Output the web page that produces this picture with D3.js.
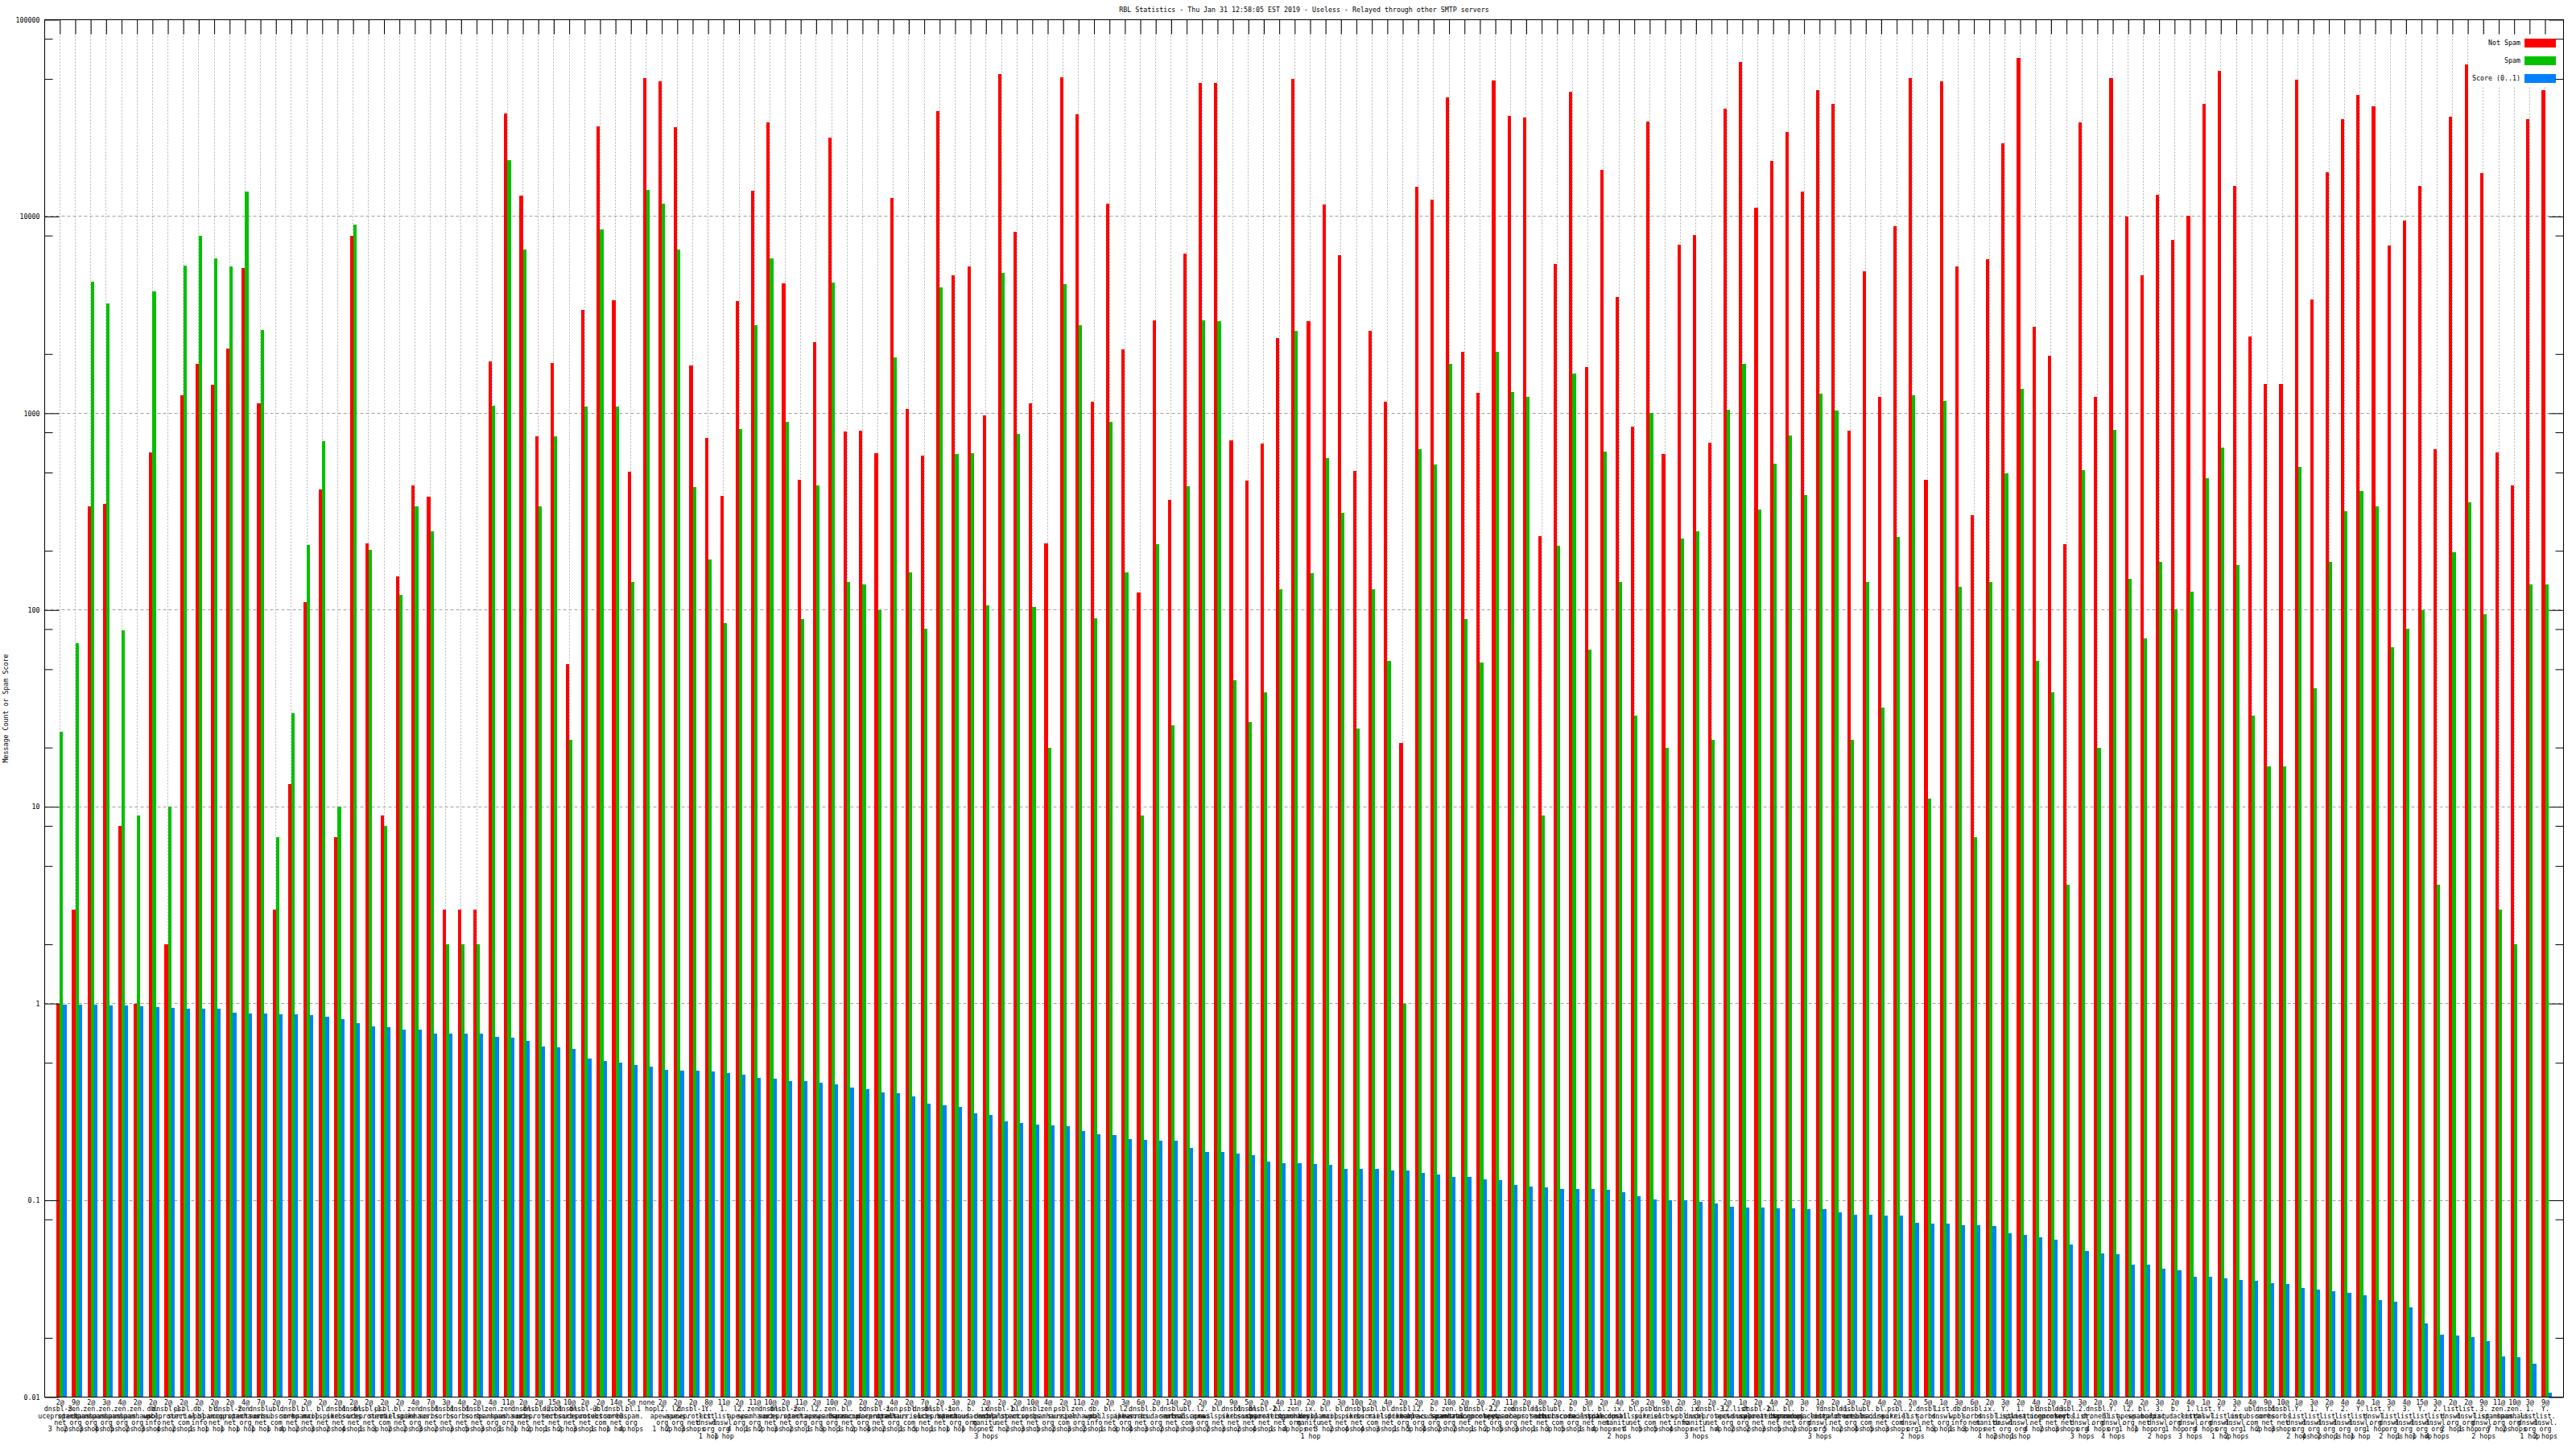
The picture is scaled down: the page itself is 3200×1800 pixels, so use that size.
<!DOCTYPE html>
<html><head><meta charset="utf-8">
<script src="https://cdn.jsdelivr.net/npm/d3@7"></script>
<style>
body{margin:0;background:#fff}
svg{display:block}
</style>
</head><body><svg id="c" width="3200" height="1800"></svg>
<script>
const title = "RBL Statistics - Thu Jan 31 12:58:05 EST 2019 - Useless - Relayed through other SMTP servers";
const yTitle = "Message Count or Spam Score";
const seriesNames = ["Not Spam", "Spam", "Score (0..1)"];
const seriesColors = ["#ff0000", "#00c000", "#0080ff"];
const yTickValues = [0.01, 0.1, 1, 10, 100, 1000, 10000, 100000];
const yTickLabels = ["0.01", "0.1", "1", "10", "100", "1000", "10000", "100000"];
const yMinorTicks = [0.02, 0.08, 0.5, 2, 5, 8, 20, 50, 80, 200, 500, 800, 2000, 8000, 50000, 80000];

const labels = [
"2@|dnsbl-3.uceprotect.net|3 hops","9@|zen.spamhaus.org|2 hops","2@|zen.spamhaus.org|3 hops","3@|zen.spamhaus.org|4 hops","4@|zen.spamhaus.org|5 hops",
"2@|zen.spamhaus.org|2 hops","2@|db.wpbl.info|3 hops","2@|dnsbl-1.uceprotect.net|4 hops","2@|psbl.surriel.com|2 hops","2@|db.wpbl.info|1 hop",
"2@|bl.spamcop.net|1 hop","2@|dnsbl-2.uceprotect.net|1 hop","4@|zen.spamhaus.org|1 hop","7@|dnsbl.sorbs.net|1 hop","2@|ubl.unsubscore.com|1 hop",
"7@|dnsbl.sorbs.net|4 hops","2@|bl.spamcop.net|2 hops","2@|bl.mailspike.net|3 hops","2@|dnsbl.sorbs.net|2 hops","2@|dnsbl.sorbs.net|4 hops",
"2@|dnsbl-1.uceprotect.net|1 hop","2@|psbl.surriel.com|3 hops","2@|bl.mailspike.net|2 hops","4@|zen.spamhaus.org|2 hops","7@|dnsbl.sorbs.net|3 hops",
"3@|dnsbl.sorbs.net|2 hops","4@|dnsbl.sorbs.net|3 hops","2@|dnsbl.sorbs.net|5 hops","4@|zen.spamhaus.org|3 hops","11@|zen.spamhaus.org|1 hop",
"2@|dnsbl.sorbs.net|1 hop","2@|dnsbl-2.uceprotect.net|2 hops","15@|dnsbl.sorbs.net|1 hop","10@|dnsbl.sorbs.net|2 hops","2@|dnsbl-3.uceprotect.net|3 hops",
"2@|ubl.unsubscore.com|1 hop","14@|dnsbl.sorbs.net|1 hop","5@|bl.0spam.org|4 hops","none||1 hop","2@|l2.apews.org|1 hop",
"2@|l2.apews.org|2 hops","2@|dnsbl-1.uceprotect.net|3 hops","8@|Y.list.dnswl.org|1 hop","11@|1.list.dnswl.org|1 hop","2@|l2.apews.org|4 hops",
"11@|zen.spamhaus.org|1 hop","10@|dnsbl.sorbs.net|2 hops","2@|dnsbl-2.uceprotect.net|3 hops","11@|zen.spamhaus.org|2 hops","2@|l2.apews.org|1 hop",
"10@|zen.spamhaus.org|3 hops","2@|bl.spamcop.net|1 hop","2@|b.barracudacentral.org|2 hops","2@|dnsbl-1.uceprotect.net|4 hops","4@|zen.spamhaus.org|2 hops",
"2@|psbl.surriel.com|1 hop","7@|dnsbl.sorbs.net|5 hops","2@|dnsbl-1.uceprotect.net|1 hop","3@|zen.spamhaus.org|1 hop","2@|b.barracudacentral.org|1 hop",
"2@|ix.dnsbl.manitu.net|3 hops","2@|dnsbl-1.uceprotect.net|2 hops","2@|bl.spamcop.net|2 hops","10@|dnsbl.sorbs.net|3 hops","4@|zen.spamhaus.org|5 hops",
"2@|psbl.surriel.com|2 hops","11@|zen.spamhaus.org|3 hops","2@|db.wpbl.info|2 hops","2@|bl.mailspike.net|1 hop","3@|l2.apews.org|3 hops",
"6@|dnsbl.sorbs.net|4 hops","2@|b.barracudacentral.org|3 hops","14@|dnsbl.sorbs.net|2 hops","2@|ubl.unsubscore.com|2 hops","2@|l2.apews.org|3 hops",
"2@|bl.mailspike.net|2 hops","9@|dnsbl.sorbs.net|3 hops","5@|dnsbl.sorbs.net|2 hops","2@|dnsbl-2.uceprotect.net|4 hops","4@|bl.spameatingmonkey.net|1 hop",
"11@|zen.spamhaus.org|4 hops","2@|ix.dnsbl.manitu.net|1 hop","2@|bl.spamcop.net|3 hops","3@|bl.mailspike.net|2 hops","10@|dnsbl.sorbs.net|4 hops",
"2@|psbl.surriel.com|4 hops","4@|bl.mailspike.net|3 hops","2@|dnsbl.dronebl.org|1 hop","2@|l2.apews.org|5 hops","2@|b.barracudacentral.org|4 hops",
"10@|zen.spamhaus.org|2 hops","2@|bl.spameatingmonkey.net|2 hops","3@|dnsbl-2.uceprotect.net|1 hop","2@|l2.apews.org|2 hops","11@|zen.spamhaus.org|5 hops",
"2@|dnsbl-1.uceprotect.net|3 hops","8@|dnsbl.sorbs.net|1 hop","2@|ubl.unsubscore.com|3 hops","2@|b.barracudacentral.org|5 hops","3@|bl.mailspike.net|1 hop",
"2@|bl.spamcop.net|4 hops","4@|ix.dnsbl.manitu.net|2 hops","5@|bl.mailspike.net|4 hops","2@|psbl.surriel.com|5 hops","9@|dnsbl.sorbs.net|5 hops",
"2@|db.wpbl.info|4 hops","3@|ix.dnsbl.manitu.net|3 hops","2@|dnsbl-3.uceprotect.net|1 hop","2@|l2.apews.org|4 hops","1@|list.dnswl.org|2 hops",
"2@|dnsbl-2.uceprotect.net|2 hops","4@|bl.spameatingmonkey.net|3 hops","2@|bl.spamcop.net|5 hops","3@|b.barracudacentral.org|2 hops","1@|Y.list.dnswl.org|3 hops",
"2@|dnsbl-1.uceprotect.net|5 hops","3@|dnsbl.dronebl.org|2 hops","2@|ubl.unsubscore.com|4 hops","4@|bl.mailspike.net|5 hops","2@|psbl.surriel.com|3 hops",
"2@|2.list.dnswl.org|2 hops","5@|dnsbl.sorbs.net|1 hop","1@|list.dnswl.org|3 hops","3@|db.wpbl.info|1 hop","6@|dnsbl.sorbs.net|3 hops",
"2@|ix.dnsbl.manitu.net|4 hops","3@|Y.list.dnswl.org|2 hops","2@|1.list.dnswl.org|1 hop","4@|bl.spameatingmonkey.net|4 hops","2@|dnsbl-3.uceprotect.net|2 hops",
"7@|dnsbl.sorbs.net|3 hops","3@|2.list.dnswl.org|3 hops","2@|dnsbl.dronebl.org|4 hops","2@|Y.list.dnswl.org|4 hops","4@|l2.apews.org|1 hop",
"2@|bl.spamcop.net|1 hop","3@|3.list.dnswl.org|2 hops","2@|b.barracudacentral.org|1 hop","4@|1.list.dnswl.org|3 hops","1@|list.dnswl.org|4 hops",
"2@|Y.list.dnswl.org|1 hop","3@|2.list.dnswl.org|2 hops","4@|ubl.unsubscore.com|1 hop","9@|dnsbl.sorbs.net|2 hops","10@|dnsbl.sorbs.net|3 hops",
"1@|Y.list.dnswl.org|2 hops","3@|1.list.dnswl.org|4 hops","2@|Y.list.dnswl.org|2 hops","4@|2.list.dnswl.org|1 hop","4@|Y.list.dnswl.org|1 hop",
"1@|list.dnswl.org|1 hop","3@|Y.list.dnswl.org|2 hops","4@|3.list.dnswl.org|1 hop","15@|Y.list.dnswl.org|1 hop","3@|2.list.dnswl.org|4 hops",
"2@|list.dnswl.org|2 hops","2@|list.dnswl.org|1 hop","9@|3.list.dnswl.org|2 hops","11@|zen.spamhaus.org|7 hops","10@|zen.spamhaus.org|2 hops",
"3@|1.list.dnswl.org|1 hop","9@|Y.list.dnswl.org|2 hops"
];

const notSpam = [1,3,335,345,8,1,635,2,1240,1780,
1390,2125,5490,1120,3,13,110,411,7,7970,
219,9,148,429,375,3,3,3,1840,33500,
12800,764,1800,53,3350,28650,3750,506,50600,48500,
28380,1746,749,379,3710,13490,30170,4560,461,2307,
25060,805,813,628,12420,1052,609,34190,5010,5550,
980,52700,8390,1120,219,51100,33110,1143,11670,2104,
123,2958,364,6480,47550,47550,726,456,704,2405,
50100,2940,11550,6350,511,2613,1143,21,14200,12170,
40300,2060,1268,49050,32450,31790,238,5730,42850,1711,
17300,3910,857,30480,622,7190,8050,711,35240,60950,
11090,19170,26940,13360,43750,37500,813,5270,1217,8930,
50600,461,48500,5550,302,6090,23560,64120,2750,1955,
217,30170,1217,50600,10000,5010,12940,7570,10100,37500,
54950,14350,2455,1406,1406,49550,3790,16760,31150,41590,
36360,7110,9500,14350,655,32120,59060,16580,635,429,
31150,43750];

const spam = [24,68,4660,3600,79,9,4160,10,5610,7970,
6150,5550,13360,2640,7,30,215,719,10,9120,
202,8,119,335,251,2,2,2,1097,19360,
6820,338,764,22,1086,8570,1086,139,13640,11670,
6820,420,180,86,830,2810,6150,902,90,429,
4610,139,135,100,1918,156,80,4380,622,628,
106,5160,788,104,20,4520,2810,91,902,156,
9,217,26,424,2958,2940,44,27,38,127,
2613,154,590,311,25,127,55,1,655,550,
1780,90,54,2060,1282,1217,9,212,1592,63,
641,139,29,1000,20,231,251,22,1042,1780,
325,555,773,383,1255,1032,22,139,32,236,
1230,11,1156,131,7,139,495,1336,55,38,
4,516,20,822,144,72,176,101,124,466,
668,169,29,16,16,532,40,175,318,403,
338,65,80,100,4,196,352,95,3,2,
135,135];

const score = [0.990,0.990,0.990,0.980,0.980,0.970,0.960,0.950,0.940,0.940,
0.940,0.902,0.893,0.893,0.884,0.884,0.874,0.856,0.830,0.797,
0.765,0.757,0.734,0.734,0.704,0.704,0.704,0.704,0.675,0.669,
0.648,0.603,0.597,0.590,0.527,0.511,0.501,0.486,0.480,0.461,
0.456,0.456,0.452,0.442,0.433,0.420,0.416,0.403,0.403,0.395,
0.387,0.375,0.367,0.352,0.349,0.338,0.311,0.305,0.299,0.278,
0.272,0.251,0.248,0.243,0.240,0.238,0.226,0.217,0.215,0.204,
0.202,0.200,0.200,0.184,0.176,0.176,0.173,0.169,0.158,0.154,
0.154,0.153,0.151,0.145,0.145,0.145,0.142,0.142,0.138,0.135,
0.132,0.131,0.128,0.127,0.120,0.117,0.116,0.114,0.114,0.114,
0.113,0.110,0.105,0.101,0.100,0.100,0.098,0.096,0.093,0.092,
0.092,0.091,0.091,0.090,0.090,0.0866,0.0848,0.0848,0.0839,0.0839,
0.0772,0.0764,0.0764,0.0749,0.0749,0.0741,0.0683,0.0669,0.0648,0.0628,
0.0597,0.0555,0.0538,0.0533,0.0471,0.0471,0.0451,0.0442,0.0407,0.0407,
0.0403,0.0395,0.0391,0.0379,0.0375,0.0360,0.0352,0.0345,0.0338,0.0328,
0.0311,0.0305,0.0287,0.0236,0.0208,0.0206,0.0202,0.0192,0.0161,0.0159,
0.0148,0.0105];

// ---------- drawing ----------
const W = 3200, H = 1800;
const P = {l: 55.5, t: 24.5, r: 3184.5, b: 1735.5};
const FONT = "'DejaVu Sans Mono', monospace";
const FS = 8.3;
const svg = d3.select("#c");
svg.append("rect").attr("width", W).attr("height", H).attr("fill", "#fff");

const idx = d3.range(labels.length);
const x = d3.scalePoint().domain(idx).range([P.l, P.r]).padding(1.09);
const bw = x.step() * 0.216;
const xt = d3.scalePoint().domain(idx).range([P.l - bw / 2, P.r - bw / 2]).padding(1.09);
const y = d3.scaleLog().domain([0.01, 100000]).range([P.b, P.t]);
const crisp = v => Math.floor(v) + 0.5;

// grid
const grid = svg.append("g").attr("stroke-width", 1);
grid.selectAll("line.h").data(yTickValues.slice(1, -1)).join("line")
  .attr("stroke", "#a0a0a0")
  .attr("x1", P.l).attr("x2", P.r)
  .attr("y1", d => crisp(y(d))).attr("y2", d => crisp(y(d)))
  .attr("stroke-dasharray", "4,3");
grid.selectAll("line.v").data(idx).join("line")
  .attr("stroke", "#b4b4b4")
  .attr("x1", d => crisp(xt(d))).attr("x2", d => crisp(xt(d)))
  .attr("y1", P.t).attr("y2", P.b)
  .attr("stroke-dasharray", "2,2");

// bottom inner ticks (behind bars)
svg.append("g").attr("transform", `translate(0,${P.b})`)
  .call(d3.axisBottom(xt).tickSizeInner(-18).tickSizeOuter(0).tickFormat(""))
  .call(g => g.select(".domain").remove())
  .selectAll(".tick line").attr("stroke", "#000");

// bars
const series = [notSpam, spam, score];
series.forEach((arr, k) => {
  svg.append("g").attr("fill", seriesColors[k]).attr("shape-rendering", "crispEdges")
    .selectAll("rect").data(arr).join("rect")
    .attr("x", (d, i) => x(i) + (k - 1.5) * bw)
    .attr("width", bw)
    .attr("y", d => y(d))
    .attr("height", d => P.b - y(d));
});

// legend
const lg = svg.append("g");
lg.append("rect").attr("x", 3069).attr("y", 42.5).attr("width", 114).attr("height", 65).attr("fill", "#fff");
seriesNames.forEach((n, k) => {
  const cy = 53.5 + k * 22;
  lg.append("rect").attr("x", 3136).attr("y", cy - 5.5).attr("width", 39).attr("height", 11)
    .attr("fill", seriesColors[k]).attr("shape-rendering", "crispEdges");
  lg.append("text").attr("x", 3131).attr("y", cy).attr("dy", "0.32em")
    .attr("text-anchor", "end").attr("font-family", FONT).attr("font-size", FS).text(n);
});

// frame
svg.append("rect").attr("x", P.l).attr("y", P.t).attr("width", P.r - P.l).attr("height", P.b - P.t)
  .attr("fill", "none").attr("stroke", "#000").attr("stroke-width", 1);

// axes
function styleAxis(g) {
  g.select(".domain").remove();
  g.attr("font-family", FONT).attr("font-size", FS);
  g.selectAll(".tick line").attr("stroke", "#000");
  g.selectAll(".tick text").attr("fill", "#000");
}
svg.append("g").attr("transform", `translate(${P.l},0)`)
  .call(d3.axisLeft(y).tickValues(yTickValues).tickFormat((d, i) => yTickLabels[i])
    .tickSizeInner(-18).tickSizeOuter(0).tickPadding(6))
  .call(styleAxis);
svg.append("g").attr("transform", `translate(${P.l},0)`)
  .call(d3.axisLeft(y).tickValues(yMinorTicks).tickFormat("").tickSizeInner(-10).tickSizeOuter(0))
  .call(styleAxis);
svg.append("g").attr("transform", `translate(${P.r},0)`)
  .call(d3.axisRight(y).tickValues(yTickValues).tickFormat("").tickSizeInner(-18).tickSizeOuter(0))
  .call(styleAxis);
svg.append("g").attr("transform", `translate(${P.r},0)`)
  .call(d3.axisRight(y).tickValues(yMinorTicks).tickFormat("").tickSizeInner(-10).tickSizeOuter(0))
  .call(styleAxis);
svg.append("g").attr("transform", `translate(0,${P.t})`)
  .call(d3.axisTop(xt).tickFormat("").tickSizeInner(-18).tickSizeOuter(0))
  .call(styleAxis);

// category labels
function labelLines(s) {
  const parts = s.split("|");
  const host = parts[1] ? parts[1].match(/[^.]*\.|[^.]+$/g) : [];
  return [parts[0], ...host, parts[2]];
}
const bx = svg.append("g").attr("transform", `translate(0,${P.b})`)
  .call(d3.axisBottom(xt).tickSize(0).tickFormat((d) => labels[d]))
  .call(styleAxis);
bx.selectAll(".tick text").each(function (d) {
  const t = d3.select(this);
  t.text(null).attr("dy", null).attr("y", null).attr("text-anchor", "middle");
  labelLines(labels[d]).forEach((ln, j) => {
    t.append("tspan").attr("x", 0).attr("y", 9.5 + j * 8.3).text(ln);
  });
});

// title & y title
svg.append("text").attr("x", (P.l + P.r) / 2).attr("y", 15).attr("text-anchor", "middle")
  .attr("font-family", FONT).attr("font-size", FS).attr("fill", "#000").text(title);
svg.append("text").attr("transform", `translate(10,${(P.t + P.b) / 2}) rotate(-90)`)
  .attr("text-anchor", "middle").attr("font-family", FONT).attr("font-size", FS)
  .attr("fill", "#000").text(yTitle);
</script>
</body></html>
